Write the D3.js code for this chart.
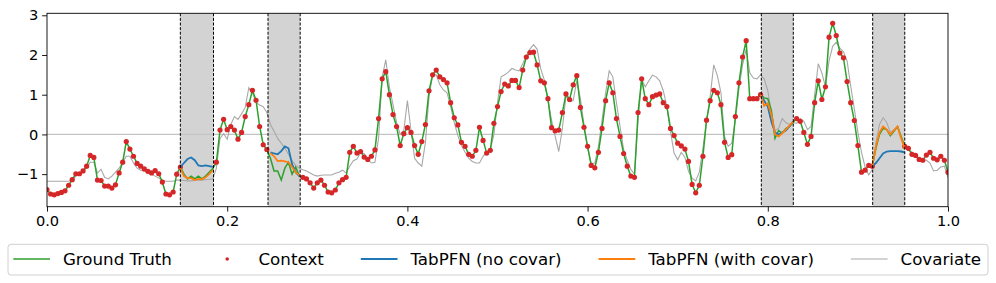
<!DOCTYPE html>
<meta charset="utf-8">
<style>
    body { margin: 0; background: #fff; }
    text { font-family: "DejaVu Sans", sans-serif; }
</style>
<svg id="chart" width="996" height="283"></svg>
<script src="https://cdn.jsdelivr.net/npm/d3@7/dist/d3.min.js"></script>
<script>

    // series sampled every 0.004 on [0, 1]
    var step = 0.004;

    var groundTruth = [
        -1.39, -1.50, -1.52, -1.49, -1.46, -1.42, -1.28, -1.14, -0.99, -0.99,
        -0.92, -0.80, -0.53, -0.58, -1.15, -1.16, -1.30, -1.30, -1.35, -1.27,
        -0.97, -0.70, -0.18, -0.37, -0.55, -0.73, -0.80, -0.87, -0.93, -0.97,
        -0.91, -0.99, -1.20, -1.50, -1.52, -1.45, -1.00, -0.82, -1.00, -1.12,
        -1.05, -1.12, -1.05, -1.12, -1.05, -0.95, -0.86, -0.70, 0.11, 0.38,
        0.12, 0.20, 0.11, -0.12, 0.05, 0.45, 0.75, 1.11, 0.86, 0.20,
        -0.26, -0.38, -0.60, -0.92, -0.92, -1.15, -0.85, -0.70, -1.00, -0.82,
        -1.05, -1.08, -1.12, -1.22, -1.35, -1.22, -1.15, -1.28, -1.45, -1.47,
        -1.40, -1.22, -1.14, -1.08, -0.45, -0.30, -0.47, -0.43, -0.57, -0.63,
        -0.55, -0.39, 0.40, 1.40, 1.58, 1.00, 0.50, 0.20, -0.28, 0.02,
        0.17, 0.05, -0.28, -0.50, -0.18, 0.25, 1.10, 1.50, 1.62, 1.45,
        1.38, 1.30, 0.80, 0.42, 0.24, -0.20, -0.30, -0.50, -0.55, -0.40,
        0.18, -0.15, -0.47, -0.40, 0.28, 0.70, 1.08, 1.27, 1.22, 1.36,
        1.36, 1.18, 1.62, 1.95, 2.06, 2.07, 1.75, 1.35, 1.30, 0.90,
        0.17, 0.09, 0.11, 0.55, 1.02, 0.88, 1.25, 1.48, 0.68, 0.18,
        -0.30, -0.78, -0.84, -0.45, 0.15, 0.85, 1.30, 1.05, 0.40, -0.05,
        -0.48, -0.80, -1.05, -1.08, 0.55, 1.40, 0.90, 0.75, 0.95, 0.99,
        1.02, 0.80, 0.70, 0.15, -0.03, -0.22, -0.29, -0.37, -0.68, -1.26,
        -1.47, -1.28, -0.55, 0.36, 0.85, 1.11, 1.05, 0.75, -0.20, -0.58,
        -0.51, 0.45, 1.30, 1.95, 2.36, 0.90, 0.90, 0.90, 1.00, 0.92,
        0.90, 0.60, -0.10, 0.10, 0.03, 0.15, 0.20, 0.30, 0.40, 0.33,
        0.05, -0.25, -0.05, 0.80, 1.35, 0.88, 1.20, 2.45, 2.80, 2.49,
        2.05, 1.93, 1.33, 0.80, 0.35, -0.28, -0.95, -0.90, -0.78, -0.80,
        -0.35, 0.00, 0.15, 0.12, -0.03, 0.08, 0.20, -0.05, -0.30, -0.35,
        -0.50, -0.53, -0.63, -0.65, -0.52, -0.45, -0.60, -0.64, -0.55, -0.65, -0.95
    ];

    var covariate = [
        -1.18, -1.18, -1.18, -1.18, -1.18, -1.18, -1.18, -1.15, -1.05, -0.98,
        -0.92, -0.85, -0.70, -0.70, -0.97, -0.88, -1.08, -1.12, -1.05, -0.95,
        -0.85, -0.70, -0.55, -0.55, -0.72, -0.85, -0.90, -0.92, -0.95, -1.00,
        -1.05, -1.10, -1.15, -1.18, -1.18, -1.18, -1.15, -1.15, -1.16, -1.17,
        -1.17, -1.16, -1.15, -1.15, -1.14, -1.13, -1.12, -0.85, -0.10, 0.02,
        -0.12, 0.25, 0.45, 0.38, 0.52, 0.68, 1.18, 1.05, 0.80, 0.74,
        0.70, 0.55, 0.25, 0.08, -0.10, -0.22, -0.35, -0.50, -0.66, -0.78,
        -0.85, -0.89, -0.92, -0.97, -1.02, -1.05, -1.03, -1.02, -1.02, -1.02,
        -0.98, -0.95, -0.90, -0.97, -0.80, -0.66, -0.62, -0.47, -0.48, -0.62,
        -0.72, -0.70, -0.10, 1.45, 1.88, 1.20, 0.75, 0.30, 0.00, 0.10,
        0.85, 0.10, -0.60, -0.72, -0.80, -0.20, 0.95, 1.50, 1.50, 1.25,
        1.12, 1.05, 0.70, 0.30, -0.03, -0.28, -0.45, -0.60, -0.68, -0.72,
        -0.72, -0.55, -0.45, -0.39, 0.00, 0.80, 1.45, 1.50, 1.57, 1.66,
        1.62, 1.60, 1.78, 1.98, 2.15, 2.26, 2.15, 1.65, 1.37, 0.85,
        0.36, -0.05, -0.43, 0.15, 0.97, 0.82, 0.85, 1.35, 0.90, 0.25,
        -0.35, -0.73, -0.72, -0.30, 0.35, 1.05, 1.60, 1.45, 0.80, 0.20,
        -0.38, -0.65, -0.88, -1.00, 0.35, 1.38, 1.20, 1.35, 1.49, 1.45,
        1.35, 1.10, 0.70, 0.07, -0.47, -0.64, -0.45, -0.58, -0.93, -1.10,
        -1.17, -0.95, -0.35, 0.33, 0.95, 1.75, 1.48, 1.05, -0.05, -0.30,
        -0.22, 0.35, 1.15, 1.75, 2.15, 1.55, 1.42, 1.40, 1.50, 1.40,
        1.10, 0.55, 0.10, 0.15, 0.40, 0.30, 0.25, 0.30, 0.28, 0.40,
        0.33, 0.12, 0.20, 1.00, 1.78, 1.55, 1.20, 1.85, 2.22, 2.32,
        2.17, 2.08, 1.85, 1.22, 0.65, 0.05, -0.45, -0.82, -1.02, -0.88,
        -0.20, 0.25, 0.42, 0.30, 0.05, 0.12, 0.18, -0.10, -0.35, -0.40,
        -0.45, -0.55, -0.60, -0.62, -0.65, -0.72, -0.92, -0.90, -0.82, -0.80, -1.08
    ];

    // held-out windows (no context inside)
    var gaps = [[0.148, 0.1848], [0.2453, 0.281], [0.7928, 0.8283], [0.9164, 0.952]];

    // forecasts: first sample index of each window, then values
    var forecastStart = [37, 62, 198, 229];
    var noCovar = [
        [-0.82, -0.72, -0.62, -0.58, -0.65, -0.78, -0.80, -0.78, -0.80, -0.82],
        [-0.45, -0.48, -0.50, -0.42, -0.30, -0.35, -0.75, -0.95, -1.05],
        [1.00, 0.85, 0.70, 0.32, 0.05, 0.00, 0.05, 0.10, 0.20, 0.32],
        [-0.80, -0.72, -0.60, -0.48, -0.43, -0.42, -0.42, -0.42, -0.43, -0.45]
    ];
    var withCovar = [
        [-0.85, -1.05, -1.10, -1.10, -1.15, -1.12, -1.13, -1.08, -1.00, -0.90],
        [-0.47, -0.55, -0.67, -0.66, -0.68, -0.70, -0.82, -0.95, -1.03],
        [1.00, 0.72, 0.78, 0.50, 0.00, -0.05, 0.03, 0.12, 0.22, 0.32],
        [-0.80, -0.30, 0.05, 0.20, 0.12, 0.00, 0.10, 0.20, -0.10, -0.35]
    ];

    var xTicks = [0, 0.2, 0.4, 0.6, 0.8, 1.0];
    var yTicks = [-1, 0, 1, 2, 3];
    var legendLabels = ["Ground Truth", "Context", "TabPFN (no covar)", "TabPFN (with covar)", "Covariate"];

    var svg = d3.select("#chart");

    var x = d3.scaleLinear().domain([0, 1]).range([47, 948]);
    var y = d3.scaleLinear().domain([-1.82, 3.05]).range([206.7, 13.3]);

    var truthPts = groundTruth.map(function(v, i) { return {t: i * step, v: v}; });
    var covarPts = covariate.map(function(v, i) { return {t: i * step, v: v}; });

    function inGap(t) {
        return gaps.some(function(g) { return t > g[0] + 1e-6 && t < g[1] - 1e-6; });
    }
    var context = truthPts.filter(function(d) { return !inGap(d.t); });

    var line = d3.line()
        .x(function(d) { return x(d.t); })
        .y(function(d) { return y(d.v); });

    svg.append("defs").append("clipPath").attr("id", "clip")
        .append("rect")
        .attr("x", x(0)).attr("y", y.range()[1])
        .attr("width", x(1) - x(0)).attr("height", y.range()[0] - y.range()[1]);

    var plot = svg.append("g").attr("clip-path", "url(#clip)");

    // shaded windows
    plot.selectAll("rect.gap")
        .data(gaps)
        .enter().append("rect")
        .attr("class", "gap")
        .attr("x", function(d) { return x(d[0]); })
        .attr("width", function(d) { return x(d[1]) - x(d[0]); })
        .attr("y", y.range()[1])
        .attr("height", y.range()[0] - y.range()[1])
        .attr("fill", "#d3d3d3");

    // zero line
    plot.append("line")
        .attr("x1", x(0)).attr("x2", x(1))
        .attr("y1", y(0)).attr("y2", y(0))
        .attr("stroke", "#c4c4c4")
        .attr("stroke-width", 1.2);

    plot.append("path")
        .datum(covarPts)
        .attr("d", line)
        .attr("fill", "none")
        .attr("stroke", "#a8a8a8")
        .attr("stroke-width", 1.1);

    plot.append("path")
        .datum(truthPts)
        .attr("d", line)
        .attr("fill", "none")
        .attr("stroke", "#2ca02c")
        .attr("stroke-width", 1.5);

    plot.append("g")
        .selectAll("circle")
        .data(context)
        .enter().append("circle")
        .attr("cx", function(d) { return x(d.t); })
        .attr("cy", function(d) { return y(d.v); })
        .attr("r", 2.6)
        .attr("fill", "#d62728");

    function forecastPts(vals, k) {
        return vals.map(function(v, j) { return {t: (forecastStart[k] + j) * step, v: v}; });
    }

    plot.selectAll("path.nocov")
        .data(noCovar.map(forecastPts))
        .enter().append("path")
        .attr("class", "nocov")
        .attr("d", line)
        .attr("fill", "none")
        .attr("stroke", "#1f77b4")
        .attr("stroke-width", 1.8);

    plot.selectAll("path.withcov")
        .data(withCovar.map(forecastPts))
        .enter().append("path")
        .attr("class", "withcov")
        .attr("d", line)
        .attr("fill", "none")
        .attr("stroke", "#ff7f0e")
        .attr("stroke-width", 1.8);

    // dashed window edges
    var edges = [];
    gaps.forEach(function(g) { edges.push(g[0], g[1]); });
    svg.selectAll("line.edge")
        .data(edges)
        .enter().append("line")
        .attr("class", "edge")
        .attr("x1", function(d) { return x(d); })
        .attr("x2", function(d) { return x(d); })
        .attr("y1", y.range()[1])
        .attr("y2", y.range()[0])
        .attr("stroke", "#000")
        .attr("stroke-width", 1)
        .attr("stroke-dasharray", "3,1.6");

    // frame
    svg.append("rect")
        .attr("x", x(0)).attr("y", y.range()[1])
        .attr("width", x(1) - x(0)).attr("height", y.range()[0] - y.range()[1])
        .attr("fill", "none")
        .attr("stroke", "#000")
        .attr("stroke-width", 0.9);

    var xAxis = svg.append("g")
        .attr("transform", "translate(0," + y.range()[0] + ")")
        .call(d3.axisBottom(x).tickValues(xTicks).tickFormat(d3.format(".1f"))
            .tickSize(4.9).tickPadding(4.5));
    var yAxis = svg.append("g")
        .attr("transform", "translate(" + x(0) + ",0)")
        .call(d3.axisLeft(y).tickValues(yTicks).tickFormat(d3.format("d"))
            .tickSize(4.9).tickPadding(3.8));

    [xAxis, yAxis].forEach(function(a) {
        a.select(".domain").remove();
        a.attr("font-family", "DejaVu Sans").attr("font-size", "14.6px");
        a.selectAll(".tick line").attr("stroke-width", 0.9);
        a.selectAll(".tick text").attr("fill", "#000");
    });

    // legend
    var legend = svg.append("g");
    legend.append("rect")
        .attr("x", 8).attr("y", 244.3)
        .attr("width", 980).attr("height", 30.7)
        .attr("rx", 3)
        .attr("fill", "#fff")
        .attr("stroke", "#d0d0d0")
        .attr("stroke-width", 1);

    var legendColor = ["#2ca02c", "#d62728", "#1f77b4", "#ff7f0e", "#a8a8a8"];
    var legendWidth = [1.5, 0, 1.8, 1.8, 1.1];
    var handleLen = 36.7, textPad = 12.9, rowY = 259;

    var items = legend.selectAll("g.item")
        .data(legendLabels)
        .enter().append("g")
        .attr("class", "item");

    items.append("text")
        .attr("x", handleLen + textPad)
        .attr("y", rowY + 6.1)
        .attr("font-size", "16.7px")
        .attr("fill", "#000")
        .text(function(d) { return d; });

    items.each(function(d, i) {
        var g = d3.select(this);
        if (i === 1) {
            g.append("circle").attr("cx", handleLen / 2).attr("cy", rowY)
                .attr("r", 1.8).attr("fill", legendColor[i]);
        } else {
            g.append("line").attr("x1", 0).attr("x2", handleLen)
                .attr("y1", rowY).attr("y2", rowY)
                .attr("stroke", legendColor[i]).attr("stroke-width", legendWidth[i]);
        }
    });

    var widths = [];
    items.select("text").each(function() { widths.push(this.getComputedTextLength() + handleLen + textPad); });
    var startX = 13.3, endX = 981;
    var gap = (endX - startX - d3.sum(widths)) / (widths.length - 1);
    var pos = startX;
    items.attr("transform", function(d, i) {
        var t = "translate(" + pos + ",0)";
        pos += widths[i] + gap;
        return t;
    });

</script>
